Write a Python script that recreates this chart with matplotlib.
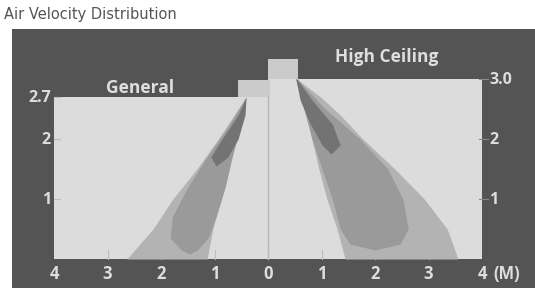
import matplotlib
matplotlib.use("Agg")
import matplotlib.pyplot as plt

# ---------------- data (metres) ----------------
title = "Air Velocity Distribution"
zone_names = ["General", "High Ceiling"]
ceiling_heights = [2.7, 3.0]
x_ticks = [-4, -3, -2, -1, 0, 1, 2, 3, 4]
x_tick_labels = ["4", "3", "2", "1", "0", "1", "2", "3", "4"]
x_unit = "(M)"
left_y_ticks = [1, 2, 2.7]
left_y_labels = ["1", "2", "2.7"]
right_y_ticks = [1, 2, 3.0]
right_y_labels = ["1", "2", "3.0"]

# General (left) plume, edges at given heights
gen_outer_h = [2.7, 2.0, 1.5, 1.0, 0.5, 0.0]
gen_outer_l = [-0.41, -0.93, -1.33, -1.78, -2.15, -2.64]
gen_outer_r = [-0.41, -0.60, -0.75, -0.90, -1.03, -1.14]
gen_mid_h = [2.7, 2.2, 1.7, 1.2, 0.7, 0.35, 0.15, 0.08]
gen_mid_l = [-0.41, -0.75, -1.14, -1.50, -1.79, -1.83, -1.62, -1.47]
gen_mid_r = [-0.41, -0.52, -0.67, -0.80, -0.97, -1.12, -1.32, -1.47]
gen_core_h = [2.7, 2.4, 2.0, 1.7, 1.55]
gen_core_l = [-0.41, -0.56, -0.86, -1.07, -0.97]
gen_core_r = [-0.41, -0.43, -0.56, -0.75, -0.97]

# High ceiling (right) plume
hc_outer_h = [3.0, 2.7, 2.4, 2.0, 1.5, 1.0, 0.5, 0.0]
hc_outer_l = [0.52, 0.62, 0.72, 0.82, 0.95, 1.10, 1.29, 1.44]
hc_outer_r = [0.54, 0.98, 1.35, 1.77, 2.37, 2.92, 3.35, 3.55]
hc_mid_h = [3.0, 2.5, 2.0, 1.5, 1.0, 0.5, 0.25, 0.15]
hc_mid_l = [0.52, 0.67, 0.82, 1.01, 1.20, 1.35, 1.53, 2.0]
hc_mid_r = [0.54, 1.07, 1.72, 2.24, 2.52, 2.62, 2.47, 2.0]
hc_core_h = [3.0, 2.65, 2.25, 1.9, 1.75]
hc_core_l = [0.52, 0.60, 0.79, 1.01, 1.18]
hc_core_r = [0.54, 0.82, 1.20, 1.35, 1.18]

# ---------------- style ----------------
PANEL = "#545454"
ROOM = "#dcdcdc"
BOX = "#cbcbcb"
OUTER = "#b3b3b3"
MID = "#9a9a9a"
CORE = "#737373"
TXT = "#dedede"
FONT = "Open Sans"

W, H = 535, 288
fig = plt.figure(figsize=(W / 100, H / 100), dpi=100)
fig.patch.set_facecolor("white")

ax = fig.add_axes([12 / W, 0, (W - 12) / W, (H - 29) / H])
ax.set_facecolor(PANEL)
ax.set_xlim(-4.785, 4.99)
ax.set_ylim(-0.483, 3.833)
for s in ax.spines.values():
    s.set_visible(False)
ax.set_xticks([])
ax.set_yticks([])

# rooms
ax.fill_between([-4, 0], 0, ceiling_heights[0], color=ROOM, lw=0, zorder=1)
ax.fill_between([0, 4], 0, ceiling_heights[1], color=ROOM, lw=0, zorder=1)
# diffuser boxes
ax.fill_between([-0.56, 0.04], ceiling_heights[0], ceiling_heights[0] + 0.28, color=BOX, lw=0, zorder=2)
ax.fill_between([0.0, 0.56], ceiling_heights[1], ceiling_heights[1] + 0.33, color=BOX, lw=0, zorder=2)
# divider
ax.plot([0, 0], [0, ceiling_heights[0]], color="#b5b5b5", lw=1, zorder=2)

# plumes
for h, l, r, c, z in [
    (gen_outer_h, gen_outer_l, gen_outer_r, OUTER, 3),
    (gen_mid_h, gen_mid_l, gen_mid_r, MID, 4),
    (gen_core_h, gen_core_l, gen_core_r, CORE, 5),
    (hc_outer_h, hc_outer_l, hc_outer_r, OUTER, 3),
    (hc_mid_h, hc_mid_l, hc_mid_r, MID, 4),
    (hc_core_h, hc_core_l, hc_core_r, CORE, 5),
]:
    ax.fill_betweenx(h, l, r, color=c, lw=0, zorder=z)

# bottom ticks & labels
for x, lab in zip(x_ticks, x_tick_labels):
    if -4 < x < 4:
        ax.plot([x, x], [0, 0.15], color="#bdbdbd", lw=0.8, zorder=2)
    ax.text(x, -0.25, lab, ha="center", va="center", color=TXT,
            fontsize=12, fontweight="bold", family=FONT)
ax.text(x_ticks[-1] + 0.22, -0.25, x_unit, ha="left", va="center", color=TXT,
        fontsize=12, fontweight="bold", family=FONT)

# left y ticks
for y, lab in zip(left_y_ticks, left_y_labels):
    ax.plot([-4, -3.88], [y, y], color="#bdbdbd", lw=0.8, zorder=2)
    ax.text(-4.06, y - 0.02, lab, ha="right", va="center", color=TXT,
            fontsize=11.5, fontweight="bold", family=FONT)
# right y ticks
for y, lab in zip(right_y_ticks, right_y_labels):
    ax.plot([3.95, 4.12], [y, y], color="#8a8a8a", lw=0.8, zorder=2)
    ax.text(4.14, y - 0.02, lab, ha="left", va="center", color=TXT,
            fontsize=11.5, fontweight="bold", family=FONT)

# zone names
ax.text(-2.39, 2.85, zone_names[0], ha="center", va="center", color=TXT,
        fontsize=12.5, fontweight="bold", family=FONT)
ax.text(2.22, 3.36, zone_names[1], ha="center", va="center", color=TXT,
        fontsize=12.5, fontweight="bold", family=FONT)

fig.text(4 / W, 1 - 15 / H, title, ha="left", va="center", color="#555555",
         fontsize=10.5, family="DejaVu Sans")

fig.savefig("out.png", dpi=100, facecolor="white")
